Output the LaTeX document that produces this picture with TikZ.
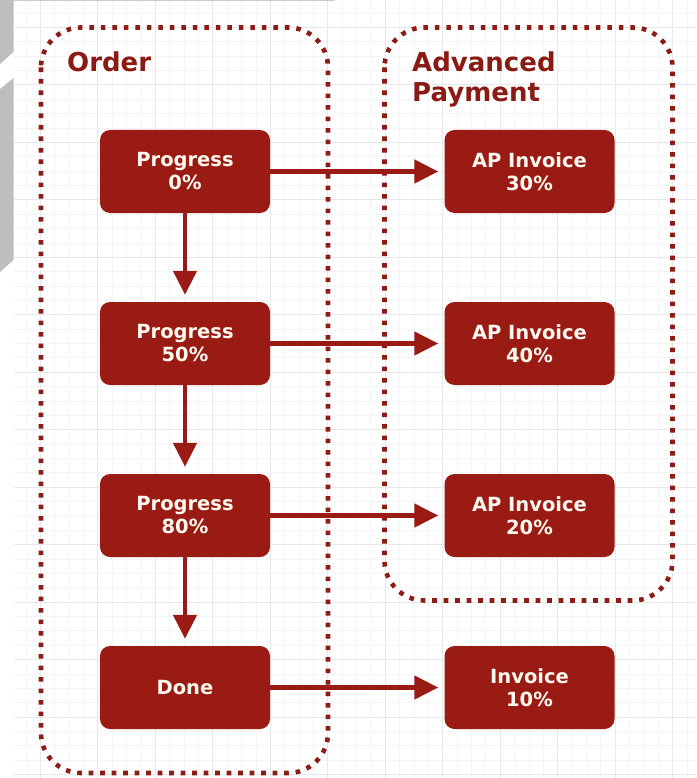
\documentclass[tikz,border=0pt]{standalone}
\usepackage{fontspec}
\setmainfont{DejaVu Sans}
\usetikzlibrary{arrows.meta}

\definecolor{boxred}{RGB}{154,27,19}
\definecolor{dotred}{RGB}{140,28,22}
\definecolor{labelred}{RGB}{138,26,20}
\definecolor{boxtext}{RGB}{255,249,240}
\definecolor{gridminor}{RGB}{245,245,247}
\definecolor{gridmajor}{RGB}{232,232,235}
\definecolor{sidegrey}{RGB}{190,190,190}

\tikzset{
  stepbox/.style={rectangle, rounded corners=10pt, fill=boxred, text=boxtext,
    minimum width=170pt, minimum height=83pt, inner sep=0pt, align=center,
    font=\fontsize{19.5}{23}\selectfont\bfseries},
  groupframe/.style={draw=dotred, line width=4.6pt, rounded corners=40pt,
    dash pattern=on 4.6pt off 6.9pt},
  grouplabel/.style={text=labelred, inner sep=0pt, align=left,
    font=\fontsize{26}{30}\selectfont\bfseries},
  flow/.style={draw=boxred, line width=4.6pt,
    -{Triangle[length=24pt,width=23pt]}},
  minorline/.style={draw=gridminor, line width=1pt},
  majorline/.style={draw=gridmajor, line width=1pt}
}

\begin{document}
\begin{tikzpicture}[x=1pt, y=-1pt]
  % canvas
  \fill[white] (0,0) rectangle (696,778);
  \useasboundingbox (0,0) rectangle (696,778);

  % background grid
  \foreach \i in {-1,...,45} {
    \pgfmathsetmacro\xx{40.5+14.3675*\i}
    \draw[minorline] (\xx,0) -- (\xx,778);
  }
  \foreach \i in {-1,...,52} {
    \pgfmathsetmacro\yy{27.5+14.3675*\i}
    \draw[minorline] (14,\yy) -- (696,\yy);
  }
  \foreach \i in {0,...,11} {
    \pgfmathsetmacro\xx{40.5+57.47*\i}
    \draw[majorline] (\xx,0) -- (\xx,778);
  }
  \foreach \i in {0,...,13} {
    \pgfmathsetmacro\yy{27.5+57.47*\i}
    \draw[majorline] (14,\yy) -- (696,\yy);
  }

  % grey panel pieces at the left edge
  \fill[sidegrey] (0,0) -- (13.5,0) -- (13.5,52) -- (0,64) -- cycle;
  \fill[sidegrey] (0,89) -- (13.5,78) -- (13.5,260) -- (0,272) -- cycle;
  \fill[sidegrey!80] (13.5,0) rectangle (335,1.5);

  % group frames
  \draw[groupframe] (41,27.5) rectangle (328,773);
  \draw[groupframe] (384.5,27.5) rectangle (672.5,600.5);
  \node[grouplabel, anchor=base west] (orderlabel) at (67,72) {Order};
  \node[grouplabel, anchor=base west] (aplabel) at (412,102) {Advanced\\Payment};

  % order steps
  \node[stepbox] (p0)   at (185,171.5) {Progress\\0\%};
  \node[stepbox] (p50)  at (185,343.5) {Progress\\50\%};
  \node[stepbox] (p80)  at (185,515.5) {Progress\\80\%};
  \node[stepbox] (done) at (185,687.5) {Done};

  % invoices
  \node[stepbox] (ap30) at (529.5,171.5) {AP Invoice\\30\%};
  \node[stepbox] (ap40) at (529.5,343.5) {AP Invoice\\40\%};
  \node[stepbox] (ap20) at (529.5,515.5) {AP Invoice\\20\%};
  \node[stepbox] (inv10) at (529.5,687.5) {Invoice\\10\%};

  % connectors
  \draw[flow, shorten >=7pt] (p0) -- (p50);
  \draw[flow, shorten >=7pt] (p50) -- (p80);
  \draw[flow, shorten >=7pt] (p80) -- (done);
  \draw[flow, shorten >=6pt] (p0) -- (ap30);
  \draw[flow, shorten >=6pt] (p50) -- (ap40);
  \draw[flow, shorten >=6pt] (p80) -- (ap20);
  \draw[flow, shorten >=6pt] (done) -- (inv10);
\end{tikzpicture}
\end{document}
